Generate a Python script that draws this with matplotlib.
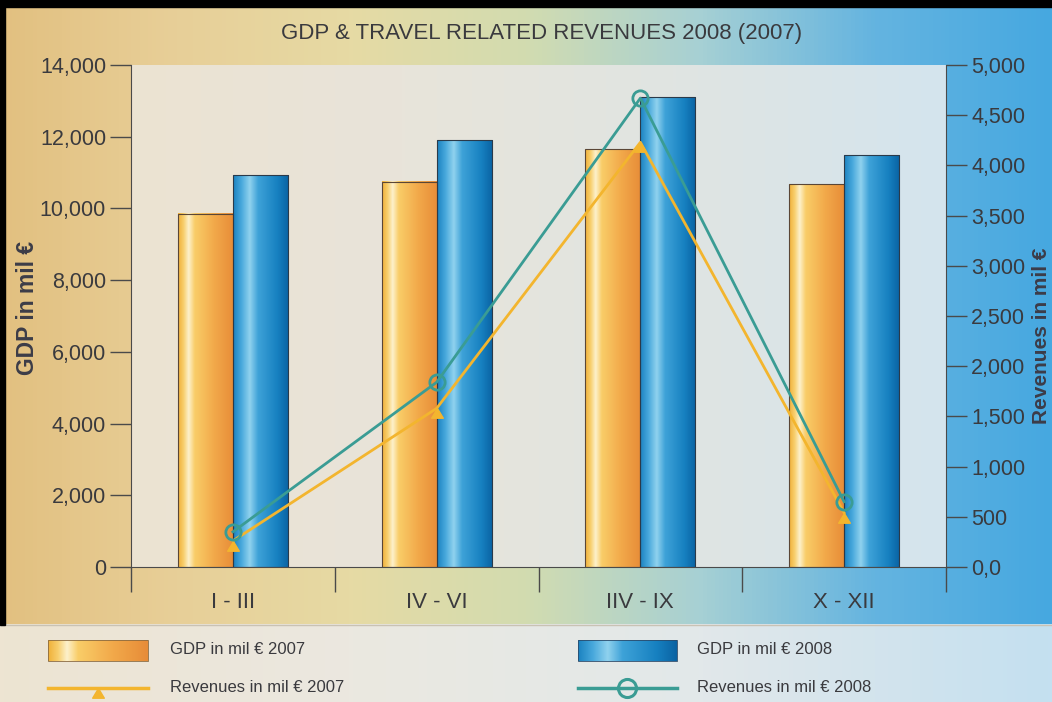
import numpy as np
import matplotlib.pyplot as plt
from matplotlib import font_manager
from matplotlib.colors import LinearSegmentedColormap
from matplotlib.path import Path
from matplotlib.patches import Rectangle
from matplotlib.ticker import FuncFormatter

# data
quarters = ['I - III', 'IV - VI', 'IIV - IX', 'X - XII']
gdp_2007 = [9850, 10750, 11650, 10680]
gdp_2008 = [10930, 11900, 13100, 11490]
rev_2007 = [260, 1580, 4230, 540]
rev_2008 = [350, 1840, 4670, 650]

installed = {f.name for f in font_manager.fontManager.ttflist}
narrow = 'Liberation Sans Narrow' if 'Liberation Sans Narrow' in installed else 'Liberation Sans'
plt.rcParams['font.family'] = ['Liberation Sans', 'DejaVu Sans']

W, H = 1052, 702
txt_col = '#3a3a3e'

orange_cmap = LinearSegmentedColormap.from_list(
    'orange', [(0, '#f0b038'), (0.1, '#f8cf6e'), (0.19, '#fdf1cc'), (0.3, '#f9cd68'),
               (0.65, '#f2a94a'), (1, '#e78c38')])
blue_cmap = LinearSegmentedColormap.from_list(
    'blue', [(0, '#1a82c0'), (0.15, '#48a8dc'), (0.3, '#90d2ee'), (0.45, '#3ea2d8'),
             (0.8, '#1680c0'), (1, '#0a62a2')])
bg_cmap = LinearSegmentedColormap.from_list(
    'bg', ['#e2c080', '#e8cf98', '#e6daa4', '#d2dcb0', '#a6d0d4', '#64b4e0', '#46a8e0'])
panel_cmap = LinearSegmentedColormap.from_list(
    'panel', ['#ece3d2', '#e8e4da', '#e0e4e2', '#d4e4ee'])
legend_cmap = LinearSegmentedColormap.from_list(
    'legend', ['#ede4d2', '#ebe8e0', '#e2e8ea', '#c4e0f0'])
grad = np.linspace(0, 1, 256)[None, :]

fig = plt.figure(figsize=(W / 100, H / 100), dpi=100)

# outer background
bg = fig.add_axes([0, 0, 1, 1], zorder=-10)
bg.set_axis_off()
bg.imshow(grad, cmap=bg_cmap, aspect='auto', extent=[0, 1, 0, 1])
bg.imshow(grad, cmap=legend_cmap, aspect='auto', extent=[0, 1, 0, 1 - 625 / H])
bg.plot([0, 1], [1 - 625 / H] * 2, color='#c9c2b4', lw=1)
bg.set_xlim(0, 1)
bg.set_ylim(0, 1)
fig.add_artist(Rectangle((0, 1 - 7 / H), 1, 7 / H, color='black',
                         transform=fig.transFigure, zorder=100))
fig.add_artist(Rectangle((0, 1 - 625 / H), 5 / W, 625 / H, color='black',
                         transform=fig.transFigure, zorder=100))

# main axes
ax = fig.add_axes([131 / W, 1 - 567 / H, (946 - 131) / W, (567 - 65) / H])
ax.imshow(grad, cmap=panel_cmap, aspect='auto', extent=[0, 1, 0, 1],
          transform=ax.transAxes, zorder=0)

x = np.arange(len(quarters))
w = 0.27
bars07 = ax.bar(x - w / 2, gdp_2007, w, facecolor='none', edgecolor='#5a4636', lw=0.8, zorder=3)
bars08 = ax.bar(x + w / 2, gdp_2008, w, facecolor='none', edgecolor='#2a3a4a', lw=0.8, zorder=3)
for bars, cmap in [(bars07, orange_cmap), (bars08, blue_cmap)]:
    for b in bars:
        ax.imshow(grad, cmap=cmap, aspect='auto', zorder=2,
                  extent=[b.get_x(), b.get_x() + b.get_width(), 0, b.get_height()])

ax.set_xlim(-0.5, 3.5)
ax.set_ylim(0, 14000)
ax.set_xticks(x)
ax.set_xticklabels(quarters, fontsize=16, family=narrow, color=txt_col)
ax.set_xticks(np.arange(-0.5, 4, 1), minor=True)
ax.tick_params(axis='x', which='major', length=0, pad=18)
ax.tick_params(axis='x', which='minor', length=18, width=1, color='#4a4a4a', direction='out')
ax.set_yticks(range(0, 14001, 2000))
ax.yaxis.set_major_formatter(FuncFormatter(lambda v, p: '0' if v == 0 else f'{int(v):,}'))
ax.tick_params(axis='y', length=15, width=1, color='#4a4a4a', direction='out',
               labelsize=15.5, labelcolor=txt_col, pad=3)
for s in ['top', 'right']:
    ax.spines[s].set_visible(False)
for s in ['left', 'bottom']:
    ax.spines[s].set_color('#4a4a4a')

ax2 = ax.twinx()
ax2.set_ylim(0, 5000)
ax2.set_yticks(range(0, 5001, 500))
ax2.yaxis.set_major_formatter(FuncFormatter(lambda v, p: '0,0' if v == 0 else f'{int(v):,}'))
ax2.tick_params(axis='y', length=15, width=1, color='#4a4a4a', direction='out',
                labelsize=15.5, labelcolor=txt_col, pad=3)
for s in ['top', 'left', 'bottom']:
    ax2.spines[s].set_visible(False)
ax2.spines['right'].set_color('#4a4a4a')

# triangle with its apex on the data point
tri = Path([(0, 0), (-0.6, -1), (0.6, -1), (0, 0)], [1, 2, 2, 79])
c07, c08 = '#f3b52e', '#3a9c94'
ax2.plot(x, rev_2007, color=c07, lw=2, marker=tri, ms=14, mfc=c07, mec=c07, zorder=5)
ax2.plot(x, rev_2008, color=c08, lw=2, marker='o', ms=11, mfc='none', mec=c08, mew=2, zorder=6)

fig.text(542 / W, 1 - 33 / H, 'GDP & TRAVEL RELATED REVENUES 2008 (2007)', ha='center',
         va='center', fontsize=16, family=narrow, color=txt_col)
fig.text(28 / W, 1 - 308 / H, 'GDP in mil €', rotation=90, ha='center', va='center',
         fontsize=16.5, fontweight='bold', color='#3c3c48')
fig.text(1051 / W, 1 - 336 / H, 'Revenues in mil €', rotation=90, ha='right', va='center',
         fontsize=15, fontweight='bold', color='#3c3c48')

# legend strip, laid out in pixel units
lg = fig.add_axes([0, 0, 1, 1 - 625 / H])
lg.set_axis_off()
lg.imshow(grad, cmap=orange_cmap, aspect='auto', extent=[48, 148, 661, 640])
lg.imshow(grad, cmap=blue_cmap, aspect='auto', extent=[578, 677, 661, 640])
lg.add_patch(Rectangle((48, 640), 100, 21, fill=False, ec='#8a6a40', lw=0.6))
lg.add_patch(Rectangle((578, 640), 99, 21, fill=False, ec='#2a4a6a', lw=0.6))
lg.plot([48, 148], [688, 688], color=c07, lw=2.5)
lg.plot([98], [688], marker=tri, ms=14, color=c07)
lg.plot([578, 677], [688, 688], color=c08, lw=2.5)
lg.plot([627], [688], marker='o', ms=13, mfc='none', mec=c08, mew=2.2)
lg.set_xlim(0, W)
lg.set_ylim(H, 625)
for tx, ty, label in [(170, 650, 'GDP in mil € 2007'), (697, 650, 'GDP in mil € 2008'),
                      (170, 688, 'Revenues in mil € 2007'), (697, 688, 'Revenues in mil € 2008')]:
    lg.text(tx, ty, label, ha='left', va='center', fontsize=12, family=narrow, color=txt_col)

fig.savefig('out.png', dpi=100)
